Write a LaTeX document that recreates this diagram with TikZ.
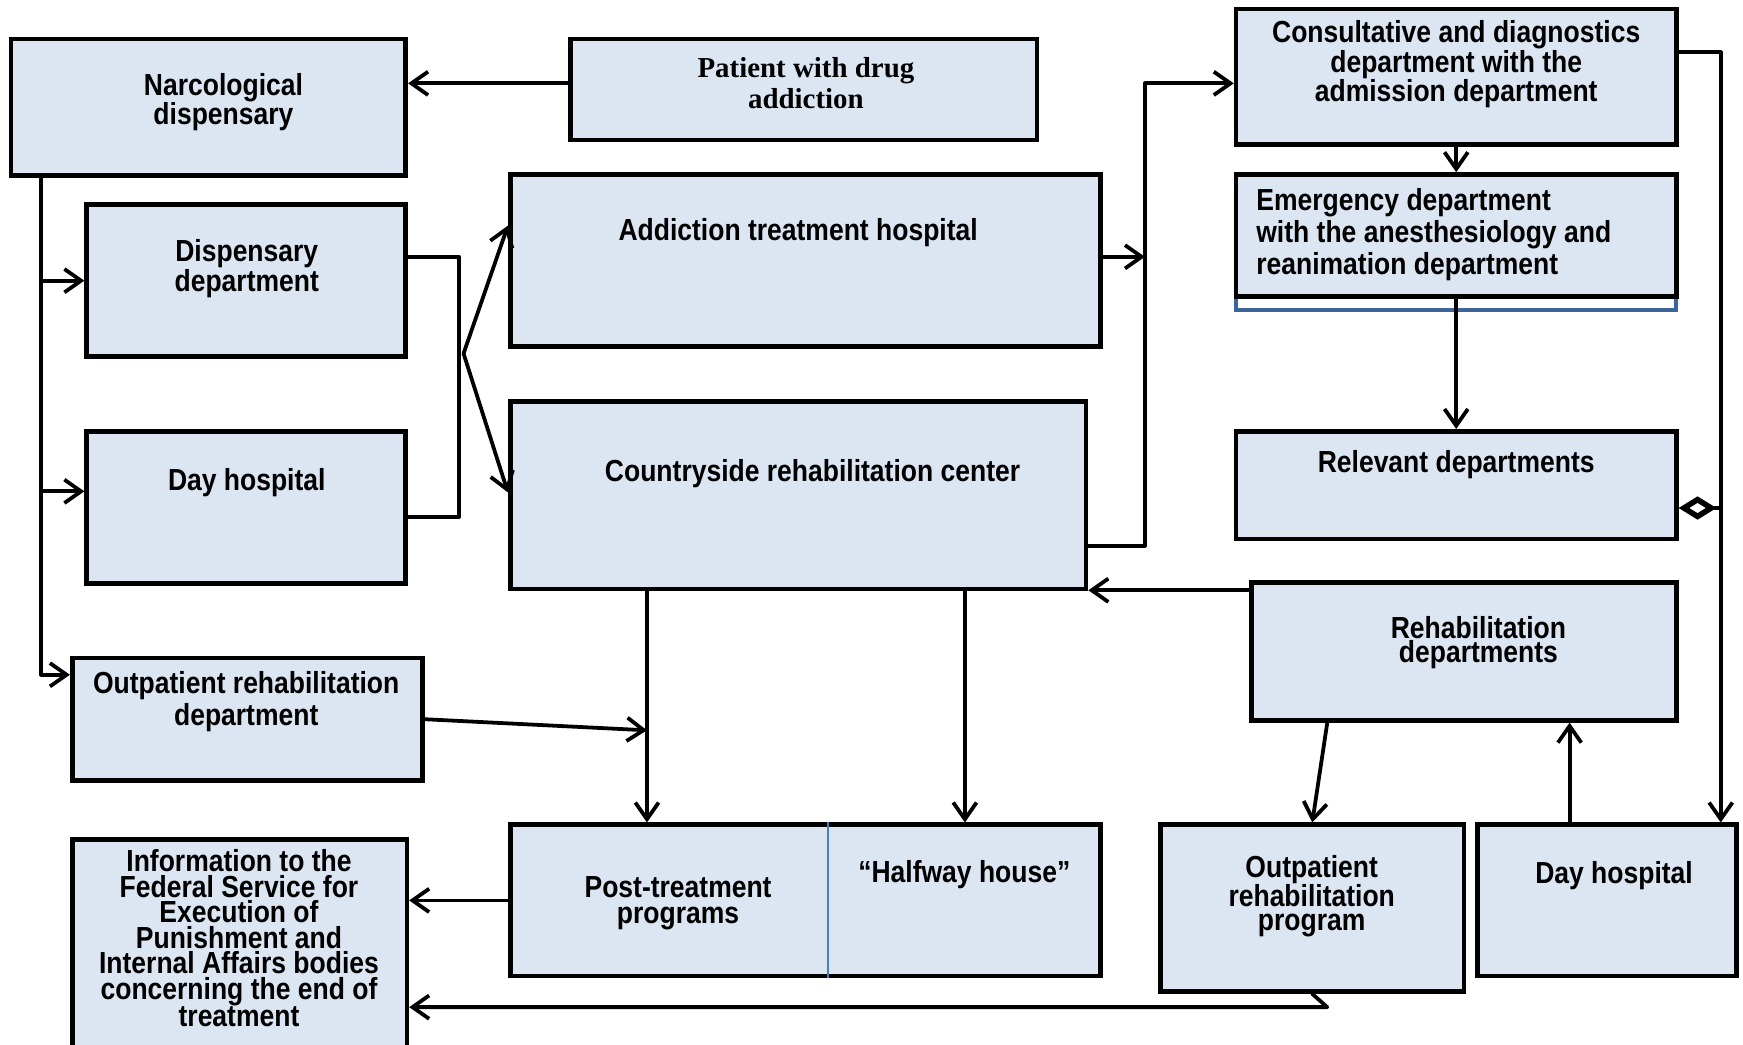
\documentclass[tikz,border=0pt]{standalone}
\usepackage{fontspec}
\newfontfamily\boxfont{Liberation Sans}[FakeStretch=0.87]
\newfontfamily\serfont{Liberation Serif}
\usetikzlibrary{arrows.meta}
\definecolor{boxfill}{RGB}{220,230,242}
\definecolor{edgeblue}{RGB}{60,100,150}
\definecolor{divblue}{RGB}{74,126,187}

\begin{document}
\begin{tikzpicture}
  [x=1pt,y=-1pt,>={Straight Barb[length=15pt,width=21pt]},
   box/.style={draw,line width=4.2pt,fill=boxfill,inner sep=0},
   txt/.style={font=\boxfont\bfseries\fontsize{27.4}{#1}\selectfont,align=center,inner sep=0},
   txt/.default=23,
   conn/.style={line width=3.4pt,line cap=round,line join=round}]
  \useasboundingbox (0,0) rectangle (1568,940);
  \node[box,minimum width=355,minimum height=123] (narc) at (187.5,96.5) {};
  \node[box,minimum width=420,minimum height=91] (pat) at (723,80.5) {};
  \node[box,minimum width=531,minimum height=155] (ath) at (724.5,234.5) {};
  \node[box,minimum width=518,minimum height=169] (crc) at (718,445.5) {};
  \node[box,minimum width=396,minimum height=122] (cons) at (1310,69) {};
  \draw[edgeblue,line width=3.4pt] (1112,212) |- (1508,279) -- (1508,212);
  \node[box,minimum width=396,minimum height=110] (emer) at (1310,212) {};
  \node[box,minimum width=396,minimum height=97] (rel) at (1310,436.5) {};
  \node[box,minimum width=287,minimum height=137] (disp) at (221.5,252.5) {};
  \node[box,minimum width=287,minimum height=137] (dayl) at (221.5,456.5) {};
  \node[box,minimum width=315,minimum height=110] (ord) at (222.5,647) {};
  \node[box,minimum width=382,minimum height=124] (rehab) at (1317,586) {};
  \node[box,minimum width=301,minimum height=193] (info) at (215.5,851.5) {};
  \node[box,minimum width=531,minimum height=136] (post) at (724.5,810) {};
  \node[box,minimum width=273,minimum height=150] (orp) at (1180.5,817) {};
  \node[box,minimum width=233,minimum height=136] (dayr) at (1445.5,810) {};
  \draw[divblue,line width=1.2pt] (post.north -| 745,0) -- (post.south -| 745,0);

  \node[txt=22] (narc-t) at (201,92) {Narcological\\dispensary};
  \node[font=\serfont\bfseries\fontsize{26}{28}\selectfont,align=center,inner sep=0] (pat-t) at (725,75) {Patient with drug\\addiction};
  \node[txt] (ath-t) at (718,209) {Addiction treatment hospital};
  \node[txt] (crc-t) at (731,426) {Countryside rehabilitation center};
  \node[txt=21] (cons-t) at (1310,58) {Consultative and diagnostics\\department with the\\admission department};
  \node[txt=29,align=left,anchor=west] (emer-t) at (1130,211) {Emergency department\\with the anesthesiology and\\reanimation department};
  \node[txt] (rel-t) at (1310,418) {Relevant departments};
  \node[txt] (disp-t) at (222,241.5) {Dispensary\\department};
  \node[txt] (dayl-t) at (222,434) {Day hospital};
  \node[txt=29] (ord-t) at (221.5,631.5) {Outpatient rehabilitation\\department};
  \node[txt=22] (rehab-t) at (1330,578) {Rehabilitation\\departments};
  \node[txt] (info-t) at (215,844) {Information to the\\Federal Service for\\Execution of\\Punishment and\\Internal Affairs bodies\\concerning the end of\\treatment};
  \node[txt] (ptp-t) at (610,812.5) {Post-treatment\\programs};
  \node[txt] (half-t) at (867.5,787) {“Halfway house”};
  \node[txt=21] (orp-t) at (1180,806) {Outpatient\\rehabilitation\\program};
  \node[txt] (dayr-t) at (1452,788) {Day hospital};

  \coordinate (spine) at (37,607);
  \coordinate (fork) at (417,318);
  \coordinate (bus) at (1030,491);

  \path [->,conn]
   (pat.west |- 0,75) edge (narc.east |- 0,75)
   (spine |- disp.west) edge (disp.west)
   (spine |- 0,442) edge (dayl.west |- 0,442)
   (fork) edge (ath.west |- 0,203)
   (fork) edge (crc.west |- 0,443)
   (ath.east |- 0,231) edge (bus |- 0,231)
   (cons.south) edge (emer.north)
   (emer.south) edge (rel.north)
   (rehab.west |- 0,531) edge (crc.east |- 0,531)
   (rehab.south -| 1194,0) edge (orp.north)
   (dayr.north -| 1412,0) edge (rehab.south -| 1412,0)
   (crc.south -| 582,0) edge (post.north -| 582,0)
   (crc.south -| 868,0) edge (post.north -| 868,0)
   (ord.east) edge (582,657)
   (post.west) edge (post.west -| info.east)
;
  \draw[->,conn] (narc.south -| spine) -- (spine) -- (spine -| ord.west);
  \draw[conn] (disp.east |- 0,231) -| (413,465) -- (dayl.east |- 0,465);
  \draw[->,conn] (crc.east |- bus) -- (bus) -- (bus |- 0,75) -- (cons.west |- 0,75);
  \draw[->,conn] (cons.east |- 0,47) -| (dayr.north -| 1548,0);
  \draw[conn,{Diamond[open,length=34pt,width=21pt,line width=5pt]}-] (rel.east |- 0,457) -- (1548,457);
  \draw[->,conn] (orp.south) -- (1194,906) -- (info.east |- 0,906);
\end{tikzpicture}
\end{document}
